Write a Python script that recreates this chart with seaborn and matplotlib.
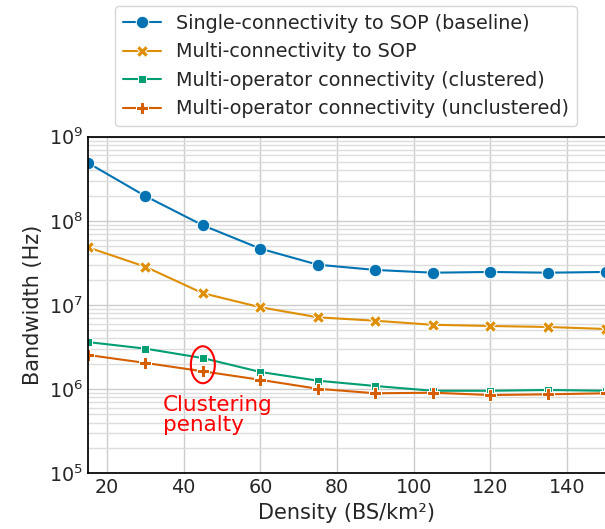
import numpy as np
import pandas as pd
import matplotlib
matplotlib.use('Agg')
import matplotlib.pyplot as plt
import seaborn as sns
from matplotlib.patches import Ellipse

# Data
density = [15, 30, 45, 60, 75, 90, 105, 120, 135, 150]
single_sop = [4.9e8, 1.97e8, 8.85e7, 4.67e7, 3.01e7, 2.61e7, 2.42e7, 2.47e7, 2.42e7, 2.47e7]
multi_sop = [4.85e7, 2.85e7, 1.38e7, 9.4e6, 7.14e6, 6.5e6, 5.82e6, 5.63e6, 5.48e6, 5.19e6]
multi_op_clustered = [3.63e6, 3.03e6, 2.34e6, 1.60e6, 1.26e6, 1.09e6, 9.57e5, 9.57e5, 9.77e5, 9.57e5]
multi_op_unclustered = [2.55e6, 2.05e6, 1.63e6, 1.29e6, 1.01e6, 8.93e5, 9.07e5, 8.51e5, 8.68e5, 8.93e5]

labels = [
    'Single-connectivity to SOP (baseline)',
    'Multi-connectivity to SOP',
    'Multi-operator connectivity (clustered)',
    'Multi-operator connectivity (unclustered)',
]
series = [single_sop, multi_sop, multi_op_clustered, multi_op_unclustered]

df = pd.concat([
    pd.DataFrame({'density': density, 'bandwidth': vals, 'scheme': lab})
    for lab, vals in zip(labels, series)
])

sns.set_theme(context='notebook', style='whitegrid', font_scale=1.25,
              rc={'axes.edgecolor': 'black'})

fig = plt.figure(figsize=(6.05, 5.29), dpi=100)
ax = fig.add_axes([87.8 / 605, (529 - 473.3) / 529, (605.5 - 87.8) / 605, (473.3 - 136.7) / 529])

palette = sns.color_palette('colorblind', 4)
sns.lineplot(data=df, x='density', y='bandwidth', hue='scheme', style='scheme',
             hue_order=labels, style_order=labels, palette=palette,
             markers=True, dashes=False, markersize=9,
             linewidth=1.5, ax=ax)

ax.set_yscale('log')
ax.set_xlim(15, 150)
ax.set_ylim(1e5, 1e9)
ax.set_xticks([20, 40, 60, 80, 100, 120, 140])
ax.grid(which='minor', axis='y', color='#dddddd', linewidth=1)
ax.grid(which='major', color='#cccccc', linewidth=1)
ax.tick_params(which='both', length=0)
ax.set_xlabel('Density (BS/km²)')
ax.set_ylabel('Bandwidth (Hz)')

# Clustering penalty annotation
cx, cy = ax.transAxes.inverted().transform(ax.transData.transform((45, 1.95e6)))
ax.add_patch(Ellipse((cx, cy), 24 / 518, 37 / 337, transform=ax.transAxes,
                     fill=False, edgecolor='red', linewidth=1.5, zorder=5))
ax.text(34.5, 8.6e5, 'Clustering\npenalty', color='red', fontsize=15.5,
        va='top', ha='left', linespacing=1.0)

ax.legend(loc='center', bbox_to_anchor=(345.8 / 605, 1 - 66 / 529),
          bbox_transform=fig.transFigure, frameon=True)

fig.savefig('out.png', dpi=100)
